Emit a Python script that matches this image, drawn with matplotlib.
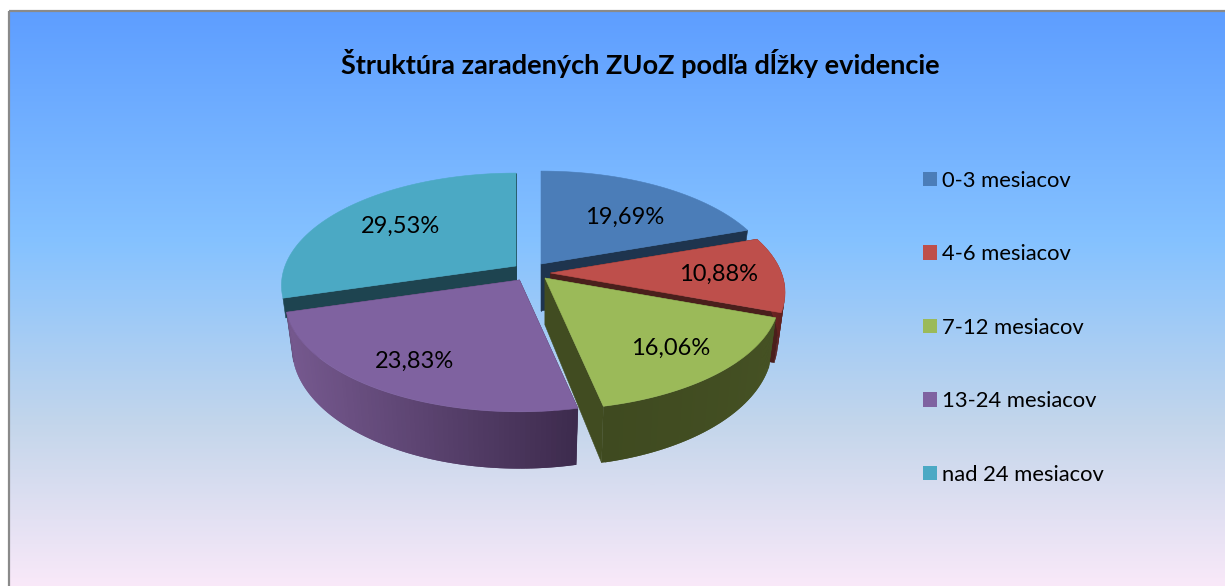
import numpy as np
import matplotlib
matplotlib.use("Agg")
import matplotlib.pyplot as plt
from matplotlib.colors import LinearSegmentedColormap, to_rgb
from matplotlib.patches import Polygon, Rectangle, Patch

title = "Štruktúra zaradených ZUoZ podľa dĺžky evidencie"
categories = ["0-3 mesiacov", "4-6 mesiacov", "7-12 mesiacov", "13-24 mesiacov", "nad 24 mesiacov"]
values = [19.69, 10.88, 16.06, 23.83, 29.53]
value_labels = ["19,69%", "10,88%", "16,06%", "23,83%", "29,53%"]

top_colors = ["#4B7DB8", "#BE4F4B", "#9BBA59", "#7F62A0", "#4BA9C4"]
cut_colors = ["#1E344E", "#4A1F1C", "#414C21", "#3F2E4F", "#1E4450"]
wall_light = ["#34527A", "#7A2A28", "#465224", "#76598F", "#2F7080"]
wall_dark = ["#2A4262", "#5A1E1C", "#3F4A20", "#3C2A4C", "#25586A"]

# slice apex on screen (pixels) and label centre
apex_x = [541, 550.5, 545, 519.5, 516]
apex_y = [264, 273, 278, 280, 266]
label_x = [625, 719, 671, 415, 401]
label_y = [217, 274, 348, 361, 226]
# how far down each cut face is drawn, the teal one is mostly behind purple
cut_depth = [1, 1, 1, 1, 0.4]

rx = 231
ry = 109
persp = 0.173
depth = 47
shrink = 0.03


def project(i, ang, z=0.0):
    # ang clockwise from 12 o'clock, z=1 is the underside of the slice
    X, Y = np.sin(ang), np.cos(ang)
    s = 1 / (1 + persp * Y)
    px = apex_x[i] + rx * X * s * (1 - shrink * z)
    py = apex_y[i] - ry * Y * s + depth * s * z
    return px, py


def face(ax, pts, color, z, lw=0.4):
    ax.add_patch(Polygon(pts, closed=True, facecolor=color, edgecolor=color, lw=lw, zorder=z))


def draw_slice(ax, i, a0, a1, z):
    ang = np.linspace(a0, a1, 80)
    ap = (apex_x[i], apex_y[i])
    d = cut_depth[i]
    ap2 = (apex_x[i], apex_y[i] + depth * d)
    # the two cut faces, the one turned away gets hidden by the top
    for a in (a0, a1):
        face(ax, [ap, project(i, a), project(i, a, d), ap2], cut_colors[i], z)
    # outer wall, teal and blue have none showing
    if i in (1, 2, 3):
        c0, c1 = np.array(to_rgb(wall_light[i])), np.array(to_rgb(wall_dark[i]))
        for k in range(len(ang) - 1, 0, -1):
            t = (project(i, ang[k])[0] - 285) / (580 - 285)
            t = np.clip(t if i == 3 else k / 79, 0, 1)
            col = c0 + (c1 - c0) * t
            # quads overlap by one step so no seams show
            b = max(k - 2, 0)
            face(ax, [project(i, ang[k]), project(i, ang[b]),
                      project(i, ang[b], 1), project(i, ang[k], 1)], col, z, lw=0)
    top = [ap] + [project(i, a) for a in ang]
    face(ax, top, top_colors[i], z + 0.5)


fig = plt.figure(figsize=(12.25, 5.86), dpi=100, facecolor="white")
ax = fig.add_axes([0, 0, 1, 1])
ax.axis("off")

# background
bg = LinearSegmentedColormap.from_list("bg", [(0, "#5E9EFF"), (0.39, "#85C2FF"),
                                              (0.70, "#C4D6EB"), (1, "#FFEBFA")])
ax.imshow(np.linspace(0, 1, 400).reshape(-1, 1), cmap=bg, aspect="auto",
          extent=(9, 1225, 605, 11), zorder=0)
ax.set_xlim(0, 1225)
ax.set_ylim(586, 0)
ax.add_patch(Rectangle((9, 11), 1230, 600, fill=False, edgecolor="#8A8A8A", lw=1.6, zorder=1))

# slices
edges = np.cumsum([0] + values) / sum(values) * 2 * np.pi
for z, i in zip([2, 3, 4, 5, 6], [4, 0, 1, 3, 2]):
    draw_slice(ax, i, edges[i], edges[i + 1], z)

for i, lab in enumerate(value_labels):
    ax.text(label_x[i], label_y[i], lab, ha="center", va="center", fontsize=17,
            family="Lato", color="black", zorder=10)

ax.text(640, 64, title, ha="center", va="center", fontsize=19.5, fontweight="bold",
        family="Lato", color="black", zorder=10)

handles = [Patch(facecolor=c, edgecolor="none") for c in top_colors]
ax.legend(handles, categories, loc="upper left", bbox_to_anchor=(903 / 1225, 1 - 151 / 586),
          frameon=False, prop={"family": "Lato", "size": 15.8}, labelspacing=2.44,
          handlelength=0.63, handleheight=0.63, handletextpad=0.27, labelcolor="black")

fig.savefig("out.png", dpi=100)
